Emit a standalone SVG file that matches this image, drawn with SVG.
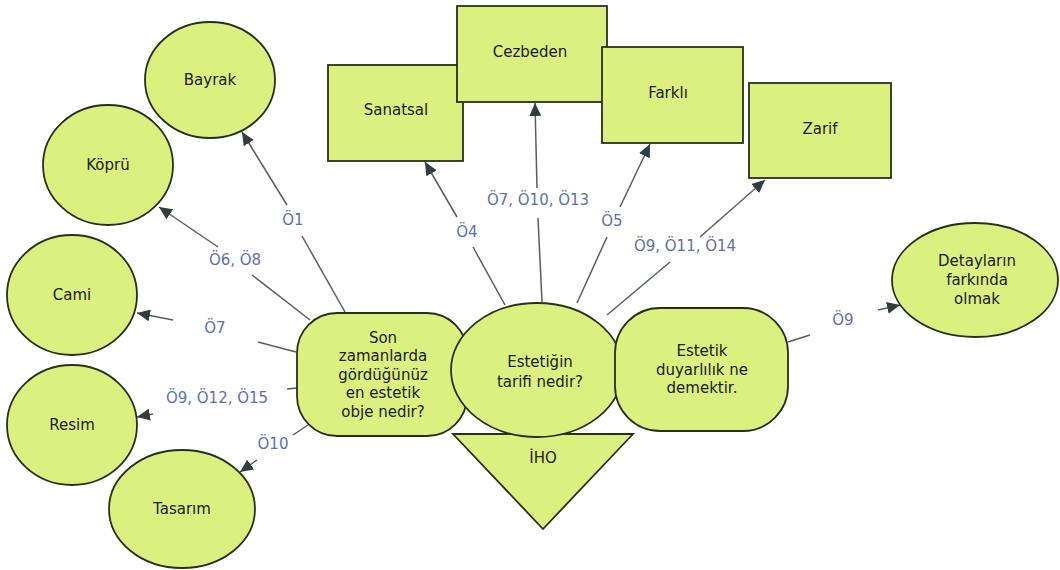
<svg xmlns="http://www.w3.org/2000/svg" width="1060" height="570" viewBox="0 0 1060 570">
  <style>
    .shape { fill: #dbf07f; stroke: #28301c; stroke-width: 1.8; }
    .txt { font-family: "DejaVu Sans", Verdana, sans-serif; font-size: 15px; fill: #202020; text-anchor: middle; }
    .edge { stroke: #565e62; stroke-width: 1.5; fill: none; }
    .lbl { font-family: "DejaVu Sans", Verdana, sans-serif; font-size: 15px; fill: #5a72b0; text-anchor: middle; }
  </style>
  <defs>
    <marker id="arrow" markerUnits="userSpaceOnUse" markerWidth="14" markerHeight="12" refX="13" refY="6" orient="auto">
      <path d="M0,0 L13,6 L0,12 z" fill="#2e3f44"/>
    </marker>
  </defs>
  <rect width="1060" height="570" fill="#ffffff"/>

  <!-- connectors: each split around its label -->
  <g id="connectors">
    <line class="edge" x1="345" y1="312" x2="302" y2="236"/>
    <line class="edge" x1="287" y1="205" x2="242" y2="132" marker-end="url(#arrow)"/>
    <text class="lbl" x="293" y="225">Ö1</text>

    <line class="edge" x1="310" y1="320" x2="252" y2="275"/>
    <line class="edge" x1="218" y1="247" x2="159" y2="207" marker-end="url(#arrow)"/>
    <text class="lbl" x="235" y="265">Ö6, Ö8</text>

    <line class="edge" x1="296" y1="352" x2="258" y2="342"/>
    <line class="edge" x1="173" y1="320" x2="137" y2="313" marker-end="url(#arrow)"/>
    <text class="lbl" x="215" y="333">Ö7</text>

    <line class="edge" x1="297" y1="388" x2="287" y2="389"/>
    <line class="edge" x1="153" y1="414" x2="137" y2="417" marker-end="url(#arrow)"/>
    <text class="lbl" x="217" y="403">Ö9, Ö12, Ö15</text>

    <line class="edge" x1="308" y1="425" x2="293" y2="435"/>
    <line class="edge" x1="257" y1="460" x2="240" y2="472" marker-end="url(#arrow)"/>
    <text class="lbl" x="273" y="449">Ö10</text>

    <line class="edge" x1="505" y1="305" x2="473" y2="247"/>
    <line class="edge" x1="457" y1="217" x2="425" y2="162" marker-end="url(#arrow)"/>
    <text class="lbl" x="467" y="237">Ö4</text>

    <line class="edge" x1="542" y1="302" x2="538" y2="218"/>
    <line class="edge" x1="537" y1="188" x2="535" y2="103" marker-end="url(#arrow)"/>
    <text class="lbl" x="538" y="205">Ö7, Ö10, Ö13</text>

    <line class="edge" x1="577" y1="303" x2="607" y2="237"/>
    <line class="edge" x1="620" y1="207" x2="650" y2="144" marker-end="url(#arrow)"/>
    <text class="lbl" x="612" y="226">Ö5</text>

    <line class="edge" x1="607" y1="315" x2="670" y2="262"/>
    <line class="edge" x1="700" y1="237" x2="765" y2="180" marker-end="url(#arrow)"/>
    <text class="lbl" x="685" y="251">Ö9, Ö11, Ö14</text>

    <line class="edge" x1="788" y1="342" x2="810" y2="335"/>
    <line class="edge" x1="878" y1="310" x2="900" y2="305" marker-end="url(#arrow)"/>
    <text class="lbl" x="843" y="325">Ö9</text>
  </g>

  <!-- left-hand answers -->
  <g id="bayrak">
    <ellipse class="shape" cx="210" cy="80" rx="65" ry="58"/>
    <text class="txt" x="210" y="85">Bayrak</text>
  </g>
  <g id="kopru">
    <ellipse class="shape" cx="108" cy="165" rx="65" ry="60"/>
    <text class="txt" x="108" y="170">Köprü</text>
  </g>
  <g id="cami">
    <ellipse class="shape" cx="72" cy="295" rx="65" ry="60"/>
    <text class="txt" x="72" y="300">Cami</text>
  </g>
  <g id="resim">
    <ellipse class="shape" cx="72" cy="425" rx="65" ry="60"/>
    <text class="txt" x="72" y="430">Resim</text>
  </g>
  <g id="tasarim">
    <ellipse class="shape" cx="182" cy="509" rx="73" ry="59"/>
    <text class="txt" x="182" y="514">Tasarım</text>
  </g>

  <!-- top answers -->
  <g id="sanatsal">
    <rect class="shape" x="328" y="65" width="135" height="96"/>
    <text class="txt" x="396" y="115">Sanatsal</text>
  </g>
  <g id="cezbeden">
    <rect class="shape" x="457" y="6" width="150" height="96"/>
    <text class="txt" x="530" y="57">Cezbeden</text>
  </g>
  <g id="farkli">
    <rect class="shape" x="602" y="47" width="141" height="96"/>
    <text class="txt" x="668" y="98">Farklı</text>
  </g>
  <g id="zarif">
    <rect class="shape" x="749" y="83" width="142" height="95"/>
    <text class="txt" x="820" y="134">Zarif</text>
  </g>

  <!-- right answer -->
  <g id="detaylar">
    <ellipse class="shape" cx="975" cy="280" rx="83" ry="57"/>
    <text class="txt" x="977" y="266">Detayların</text>
    <text class="txt" x="977" y="285">farkında</text>
    <text class="txt" x="977" y="304">olmak</text>
  </g>

  <!-- central questions -->
  <g id="soru-obje">
    <rect class="shape" x="297" y="313" width="170" height="123" rx="40" ry="40"/>
    <text class="txt" x="383" y="343">Son</text>
    <text class="txt" x="383" y="361">zamanlarda</text>
    <text class="txt" x="383" y="380">gördüğünüz</text>
    <text class="txt" x="383" y="398">en estetik</text>
    <text class="txt" x="383" y="417">obje nedir?</text>
  </g>
  <g id="iho">
    <polygon class="shape" points="453,434 633,434 543,529"/>
    <text class="txt" x="543" y="463">İHO</text>
  </g>
  <g id="soru-tarif">
    <ellipse class="shape" cx="537" cy="370" rx="86" ry="67"/>
    <text class="txt" x="540" y="367">Estetiğin</text>
    <text class="txt" x="540" y="387">tarifi nedir?</text>
  </g>
  <g id="soru-duyarlilik">
    <rect class="shape" x="615" y="308" width="173" height="123" rx="45" ry="45"/>
    <text class="txt" x="702" y="356">Estetik</text>
    <text class="txt" x="702" y="375">duyarlılık ne</text>
    <text class="txt" x="702" y="393">demektir.</text>
  </g>
</svg>
